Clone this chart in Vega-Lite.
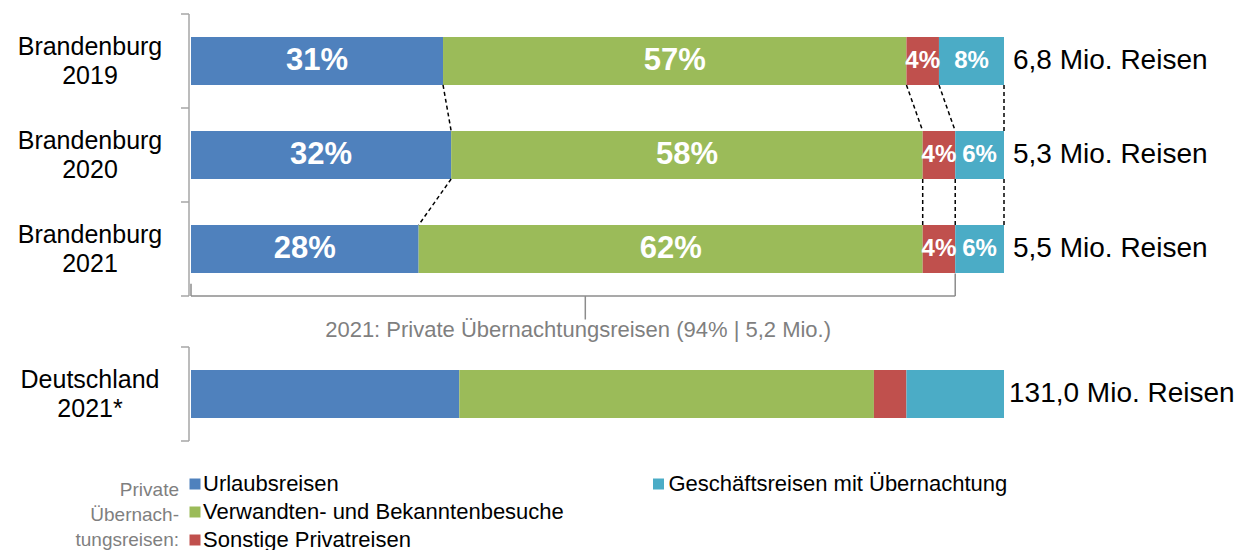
{
  "$schema": "https://vega.github.io/schema/vega-lite/v6.json",
  "background": "white",
  "padding": {"left": 17, "top": 13, "right": 0, "bottom": 0},
  "config": {
    "font": "Liberation Sans",
    "view": {"stroke": null}
  },
  "datasets": {
    "shares": [
      {"region": "Brandenburg 2019", "cat": "Urlaubsreisen", "pct": 31},
      {"region": "Brandenburg 2019", "cat": "Verwandten- und Bekanntenbesuche", "pct": 57},
      {"region": "Brandenburg 2019", "cat": "Sonstige Privatreisen", "pct": 4},
      {"region": "Brandenburg 2019", "cat": "Geschäftsreisen mit Übernachtung", "pct": 8},
      {"region": "Brandenburg 2020", "cat": "Urlaubsreisen", "pct": 32},
      {"region": "Brandenburg 2020", "cat": "Verwandten- und Bekanntenbesuche", "pct": 58},
      {"region": "Brandenburg 2020", "cat": "Sonstige Privatreisen", "pct": 4},
      {"region": "Brandenburg 2020", "cat": "Geschäftsreisen mit Übernachtung", "pct": 6},
      {"region": "Brandenburg 2021", "cat": "Urlaubsreisen", "pct": 28},
      {"region": "Brandenburg 2021", "cat": "Verwandten- und Bekanntenbesuche", "pct": 62},
      {"region": "Brandenburg 2021", "cat": "Sonstige Privatreisen", "pct": 4},
      {"region": "Brandenburg 2021", "cat": "Geschäftsreisen mit Übernachtung", "pct": 6},
      {"region": "Deutschland 2021*", "cat": "Urlaubsreisen", "pct": 33},
      {"region": "Deutschland 2021*", "cat": "Verwandten- und Bekanntenbesuche", "pct": 51},
      {"region": "Deutschland 2021*", "cat": "Sonstige Privatreisen", "pct": 4},
      {"region": "Deutschland 2021*", "cat": "Geschäftsreisen mit Übernachtung", "pct": 12}
    ],
    "totals": [
      {"region": "Brandenburg 2019", "mio": 6.8, "share": 100},
      {"region": "Brandenburg 2020", "mio": 5.3, "share": 100},
      {"region": "Brandenburg 2021", "mio": 5.5, "share": 100},
      {"region": "Deutschland 2021*", "mio": 131.0, "share": 100}
    ],
    "links": [
      {"from": "Brandenburg 2019", "to": "Brandenburg 2020", "a": 31, "b": 32},
      {"from": "Brandenburg 2019", "to": "Brandenburg 2020", "a": 88, "b": 90},
      {"from": "Brandenburg 2019", "to": "Brandenburg 2020", "a": 92, "b": 94},
      {"from": "Brandenburg 2019", "to": "Brandenburg 2020", "a": 100, "b": 100},
      {"from": "Brandenburg 2020", "to": "Brandenburg 2021", "a": 32, "b": 28},
      {"from": "Brandenburg 2020", "to": "Brandenburg 2021", "a": 90, "b": 90},
      {"from": "Brandenburg 2020", "to": "Brandenburg 2021", "a": 94, "b": 94},
      {"from": "Brandenburg 2020", "to": "Brandenburg 2021", "a": 100, "b": 100}
    ],
    "brace": [
      {"part": "span", "row": "Brandenburg 2021", "a": 0, "b": 94},
      {"part": "left", "row": "Brandenburg 2021", "a": 0, "b": 0},
      {"part": "right", "row": "Brandenburg 2021", "a": 94, "b": 94},
      {"part": "tip", "row": "Brandenburg 2021", "a": 48.5, "b": 48.5}
    ],
    "axisspan": [
      {"panel": "B", "first": "Brandenburg 2019", "last": "Brandenburg 2021"},
      {"panel": "D", "first": "Deutschland 2021*", "last": "Deutschland 2021*"}
    ]
  },
  "spacing": 5,
  "vconcat": [
    {
      "width": 813,
      "height": 282,
      "layer": [
        {
          "data": {"name": "shares"},
          "transform": [
            {"filter": "datum.region != 'Deutschland 2021*'"},
            {"calculate": "indexof(['Urlaubsreisen','Verwandten- und Bekanntenbesuche','Sonstige Privatreisen','Geschäftsreisen mit Übernachtung'], datum.cat)", "as": "k"},
            {"stack": "pct", "groupby": ["region"], "sort": [{"field": "k", "order": "ascending"}], "as": ["x0", "x1"]}
          ],
          "mark": {"type": "bar", "height": {"band": 0.51}},
          "encoding": {
            "y": {
              "field": "region", "type": "nominal",
              "scale": {"domain": ["Brandenburg 2019", "Brandenburg 2020", "Brandenburg 2021"], "paddingInner": 0, "paddingOuter": 0},
              "axis": null
            },
            "x": {"field": "x0", "type": "quantitative", "scale": {"domain": [0, 100], "nice": false}, "axis": null},
            "x2": {"field": "x1"},
            "color": {
              "field": "cat", "type": "nominal",
              "scale": {
                "domain": ["Urlaubsreisen", "Verwandten- und Bekanntenbesuche", "Sonstige Privatreisen", "Geschäftsreisen mit Übernachtung"],
                "range": ["#4F81BD", "#9BBB59", "#C0504D", "#4BACC6"]
              },
              "legend": null
            }
          }
        },
        {
          "data": {"name": "shares"},
          "transform": [
            {"filter": "datum.region != 'Deutschland 2021*'"},
            {"calculate": "indexof(['Urlaubsreisen','Verwandten- und Bekanntenbesuche','Sonstige Privatreisen','Geschäftsreisen mit Übernachtung'], datum.cat)", "as": "k"},
            {"stack": "pct", "groupby": ["region"], "sort": [{"field": "k", "order": "ascending"}], "as": ["x0", "x1"]},
            {"calculate": "(datum.x0 + datum.x1) / 2", "as": "mid"},
            {"calculate": "datum.pct + '%'", "as": "lbl"}
          ],
          "mark": {"type": "text", "color": "white", "fontWeight": "bold", "baseline": "middle", "align": "center"},
          "encoding": {
            "y": {"field": "region", "type": "nominal", "axis": null},
            "x": {"field": "mid", "type": "quantitative", "axis": null},
            "text": {"field": "lbl"},
            "size": {"condition": {"test": "datum.pct < 10", "value": 24}, "value": 31}
          }
        },
        {
          "data": {"name": "totals"},
          "transform": [
            {"filter": "datum.region != 'Deutschland 2021*'"},
            {"calculate": "replace(format(datum.mio, '.1f'), '.', ',') + ' Mio. Reisen'", "as": "t"}
          ],
          "mark": {"type": "text", "align": "left", "baseline": "middle", "dx": 9, "fontSize": 28, "color": "black"},
          "encoding": {
            "y": {"field": "region", "type": "nominal", "axis": null},
            "x": {"field": "share", "type": "quantitative", "axis": null},
            "text": {"field": "t"}
          }
        },
        {
          "data": {"name": "totals"},
          "transform": [
            {"filter": "datum.region != 'Deutschland 2021*'"},
            {"calculate": "split(datum.region, ' ')", "as": "lines"}
          ],
          "mark": {"type": "text", "align": "center", "baseline": "middle", "dx": -101, "yOffset": -14, "fontSize": 25, "lineHeight": 29, "color": "black"},
          "encoding": {
            "y": {"field": "region", "type": "nominal", "axis": null},
            "x": {"datum": 0, "type": "quantitative", "axis": null},
            "text": {"field": "lines"}
          }
        },
        {
          "data": {"name": "axisspan"},
          "transform": [{"filter": "datum.panel == 'B'"}],
          "mark": {"type": "rule", "color": "#A6A6A6", "strokeWidth": 1.5, "xOffset": -2},
          "encoding": {
            "y": {"field": "first", "type": "nominal", "bandPosition": 0, "axis": null},
            "y2": {"field": "last", "bandPosition": 1},
            "x": {"datum": 0, "type": "quantitative", "axis": null}
          }
        },
        {
          "data": {"name": "totals"},
          "transform": [{"filter": "datum.region != 'Deutschland 2021*'"}],
          "mark": {"type": "rule", "color": "#A6A6A6", "strokeWidth": 1.5, "xOffset": -10, "x2Offset": -2},
          "encoding": {
            "y": {"field": "region", "type": "nominal", "bandPosition": 0, "axis": null},
            "x": {"datum": 0, "type": "quantitative", "axis": null},
            "x2": {"datum": 0}
          }
        },
        {
          "data": {"name": "totals"},
          "transform": [{"filter": "datum.region == 'Brandenburg 2021'"}],
          "mark": {"type": "rule", "color": "#A6A6A6", "strokeWidth": 1.5, "xOffset": -10, "x2Offset": -2},
          "encoding": {
            "y": {"field": "region", "type": "nominal", "bandPosition": 1, "axis": null},
            "x": {"datum": 0, "type": "quantitative", "axis": null},
            "x2": {"datum": 0}
          }
        },
        {
          "data": {"name": "links"},
          "mark": {"type": "rule", "color": "black", "strokeWidth": 1.5, "strokeDash": [4, 3]},
          "encoding": {
            "y": {"field": "from", "type": "nominal", "bandPosition": 0.755, "axis": null},
            "y2": {"field": "to", "bandPosition": 0.245},
            "x": {"field": "a", "type": "quantitative", "axis": null},
            "x2": {"field": "b"}
          }
        },
        {
          "data": {"name": "brace"},
          "transform": [{"filter": "datum.part == 'span'"}],
          "mark": {"type": "rule", "color": "#8C8C8C", "strokeWidth": 1.5},
          "encoding": {
            "y": {"field": "row", "type": "nominal", "bandPosition": 1, "axis": null},
            "x": {"field": "a", "type": "quantitative", "axis": null},
            "x2": {"field": "b"}
          }
        },
        {
          "data": {"name": "brace"},
          "transform": [{"filter": "datum.part == 'left'"}],
          "mark": {"type": "rule", "color": "#8C8C8C", "strokeWidth": 1.5},
          "encoding": {
            "y": {"field": "row", "type": "nominal", "bandPosition": 0.87, "axis": null},
            "y2": {"field": "row", "bandPosition": 1},
            "x": {"field": "a", "type": "quantitative", "axis": null}
          }
        },
        {
          "data": {"name": "brace"},
          "transform": [{"filter": "datum.part == 'right'"}],
          "mark": {"type": "rule", "color": "#8C8C8C", "strokeWidth": 1.5},
          "encoding": {
            "y": {"field": "row", "type": "nominal", "bandPosition": 0.76, "axis": null},
            "y2": {"field": "row", "bandPosition": 1},
            "x": {"field": "a", "type": "quantitative", "axis": null}
          }
        },
        {
          "data": {"name": "brace"},
          "transform": [{"filter": "datum.part == 'tip'"}],
          "mark": {"type": "rule", "color": "#8C8C8C", "strokeWidth": 1.5},
          "encoding": {
            "y": {"field": "row", "type": "nominal", "bandPosition": 1, "axis": null},
            "y2": {"field": "row", "bandPosition": 1.25},
            "x": {"field": "a", "type": "quantitative", "axis": null}
          }
        },
        {
          "data": {"name": "totals"},
          "transform": [{"filter": "datum.region == 'Brandenburg 2021'"}],
          "mark": {"type": "text", "align": "center", "baseline": "middle", "yOffset": 34, "dx": 5, "fontSize": 22, "color": "#7F7F7F", "text": "2021: Private Übernachtungsreisen (94% | 5,2 Mio.)"},
          "encoding": {
            "y": {"field": "region", "type": "nominal", "bandPosition": 1, "axis": null},
            "x": {"datum": 47, "type": "quantitative", "axis": null}
          }
        }
      ]
    },
    {
      "width": 813,
      "height": 94,
      "layer": [
        {
          "data": {"name": "shares"},
          "transform": [
            {"filter": "datum.region == 'Deutschland 2021*'"},
            {"calculate": "indexof(['Urlaubsreisen','Verwandten- und Bekanntenbesuche','Sonstige Privatreisen','Geschäftsreisen mit Übernachtung'], datum.cat)", "as": "k"},
            {"stack": "pct", "groupby": ["region"], "sort": [{"field": "k", "order": "ascending"}], "as": ["x0", "x1"]}
          ],
          "mark": {"type": "bar", "height": {"band": 0.51}},
          "encoding": {
            "y": {
              "field": "region", "type": "nominal",
              "scale": {"domain": ["Deutschland 2021*"], "paddingInner": 0, "paddingOuter": 0},
              "axis": null
            },
            "x": {"field": "x0", "type": "quantitative", "scale": {"domain": [0, 100], "nice": false}, "axis": null},
            "x2": {"field": "x1"},
            "color": {
              "field": "cat", "type": "nominal",
              "scale": {
                "domain": ["Urlaubsreisen", "Verwandten- und Bekanntenbesuche", "Sonstige Privatreisen", "Geschäftsreisen mit Übernachtung"],
                "range": ["#4F81BD", "#9BBB59", "#C0504D", "#4BACC6"]
              },
              "legend": null
            }
          }
        },
        {
          "data": {"name": "totals"},
          "transform": [
            {"filter": "datum.region == 'Deutschland 2021*'"},
            {"calculate": "replace(format(datum.mio, '.1f'), '.', ',') + ' Mio. Reisen'", "as": "t"}
          ],
          "mark": {"type": "text", "align": "left", "baseline": "middle", "dx": 5, "fontSize": 28, "color": "black"},
          "encoding": {
            "y": {"field": "region", "type": "nominal", "axis": null},
            "x": {"field": "share", "type": "quantitative", "axis": null},
            "text": {"field": "t"}
          }
        },
        {
          "data": {"name": "totals"},
          "transform": [
            {"filter": "datum.region == 'Deutschland 2021*'"},
            {"calculate": "split(datum.region, ' ')", "as": "lines"}
          ],
          "mark": {"type": "text", "align": "center", "baseline": "middle", "dx": -101, "yOffset": -14, "fontSize": 25, "lineHeight": 29, "color": "black"},
          "encoding": {
            "y": {"field": "region", "type": "nominal", "axis": null},
            "x": {"datum": 0, "type": "quantitative", "axis": null},
            "text": {"field": "lines"}
          }
        },
        {
          "data": {"name": "axisspan"},
          "transform": [{"filter": "datum.panel == 'D'"}],
          "mark": {"type": "rule", "color": "#A6A6A6", "strokeWidth": 1.5, "xOffset": -2},
          "encoding": {
            "y": {"field": "first", "type": "nominal", "bandPosition": 0, "axis": null},
            "y2": {"field": "last", "bandPosition": 1},
            "x": {"datum": 0, "type": "quantitative", "axis": null}
          }
        },
        {
          "data": {"name": "totals"},
          "transform": [{"filter": "datum.region == 'Deutschland 2021*'"}],
          "mark": {"type": "rule", "color": "#A6A6A6", "strokeWidth": 1.5, "xOffset": -10, "x2Offset": -2},
          "encoding": {
            "y": {"field": "region", "type": "nominal", "bandPosition": 0, "axis": null},
            "x": {"datum": 0, "type": "quantitative", "axis": null},
            "x2": {"datum": 0}
          }
        },
        {
          "data": {"name": "totals"},
          "transform": [{"filter": "datum.region == 'Deutschland 2021*'"}],
          "mark": {"type": "rule", "color": "#A6A6A6", "strokeWidth": 1.5, "xOffset": -10, "x2Offset": -2},
          "encoding": {
            "y": {"field": "region", "type": "nominal", "bandPosition": 1, "axis": null},
            "x": {"datum": 0, "type": "quantitative", "axis": null},
            "x2": {"datum": 0}
          }
        },
        {
          "data": {"name": "totals"},
          "transform": [{"filter": "datum.region == 'Deutschland 2021*'"}],
          "mark": {"type": "text", "align": "right", "baseline": "middle", "dx": -12, "yOffset": 49, "fontSize": 19, "lineHeight": 25, "color": "#7F7F7F", "text": ["Private", "Übernach-", "tungsreisen:"]},
          "encoding": {
            "y": {"field": "region", "type": "nominal", "bandPosition": 1, "axis": null},
            "x": {"datum": 0, "type": "quantitative", "axis": null}
          }
        },
        {
          "data": {"name": "totals"},
          "transform": [{"filter": "datum.region == 'Deutschland 2021*'"}],
          "mark": {"type": "text", "align": "left", "baseline": "middle", "dx": 12, "yOffset": 43, "fontSize": 22, "lineHeight": 28, "color": "black", "text": ["Urlaubsreisen", "Verwandten- und Bekanntenbesuche", "Sonstige Privatreisen"]},
          "encoding": {
            "y": {"field": "region", "type": "nominal", "bandPosition": 1, "axis": null},
            "x": {"datum": 0, "type": "quantitative", "axis": null}
          }
        },
        {
          "data": {"name": "totals"},
          "transform": [{"filter": "datum.region == 'Deutschland 2021*'"}],
          "mark": {"type": "text", "align": "left", "baseline": "middle", "dx": 10, "yOffset": 43, "fontSize": 22, "color": "black", "text": "Geschäftsreisen mit Übernachtung"},
          "encoding": {
            "y": {"field": "region", "type": "nominal", "bandPosition": 1, "axis": null},
            "x": {"datum": 57.5, "type": "quantitative", "axis": null}
          }
        },
        {
          "data": {"name": "totals"},
          "transform": [{"filter": "datum.region == 'Deutschland 2021*'"}],
          "mark": {"type": "point", "shape": "square", "filled": true, "size": 121, "opacity": 1, "color": "#4F81BD", "xOffset": 4, "yOffset": 43},
          "encoding": {
            "y": {"field": "region", "type": "nominal", "bandPosition": 1, "axis": null},
            "x": {"datum": 0, "type": "quantitative", "axis": null}
          }
        },
        {
          "data": {"name": "totals"},
          "transform": [{"filter": "datum.region == 'Deutschland 2021*'"}],
          "mark": {"type": "point", "shape": "square", "filled": true, "size": 121, "opacity": 1, "color": "#9BBB59", "xOffset": 4, "yOffset": 71},
          "encoding": {
            "y": {"field": "region", "type": "nominal", "bandPosition": 1, "axis": null},
            "x": {"datum": 0, "type": "quantitative", "axis": null}
          }
        },
        {
          "data": {"name": "totals"},
          "transform": [{"filter": "datum.region == 'Deutschland 2021*'"}],
          "mark": {"type": "point", "shape": "square", "filled": true, "size": 121, "opacity": 1, "color": "#C0504D", "xOffset": 4, "yOffset": 99},
          "encoding": {
            "y": {"field": "region", "type": "nominal", "bandPosition": 1, "axis": null},
            "x": {"datum": 0, "type": "quantitative", "axis": null}
          }
        },
        {
          "data": {"name": "totals"},
          "transform": [{"filter": "datum.region == 'Deutschland 2021*'"}],
          "mark": {"type": "point", "shape": "square", "filled": true, "size": 121, "opacity": 1, "color": "#4BACC6", "yOffset": 43},
          "encoding": {
            "y": {"field": "region", "type": "nominal", "bandPosition": 1, "axis": null},
            "x": {"datum": 57.5, "type": "quantitative", "axis": null}
          }
        }
      ]
    }
  ]
}
